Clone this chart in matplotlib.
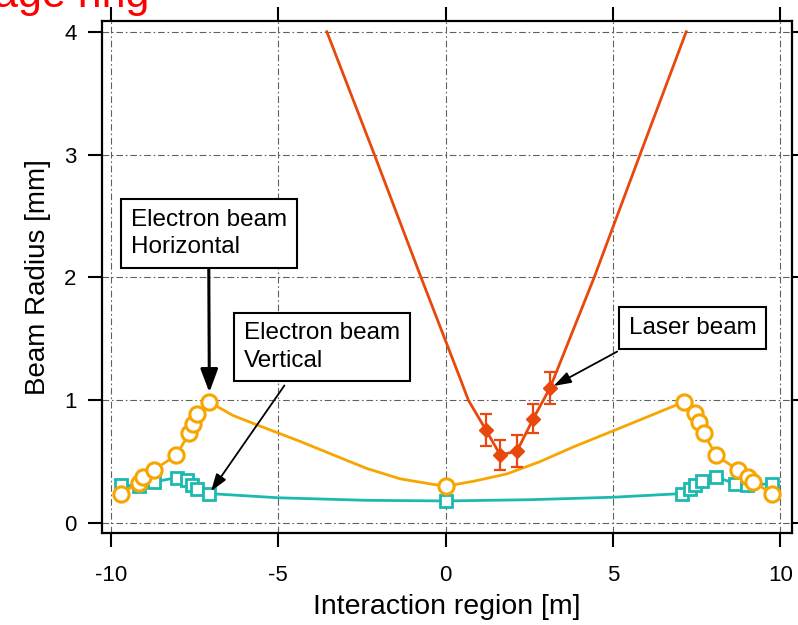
import matplotlib
matplotlib.use("Agg")
import matplotlib.pyplot as plt
import numpy as np

plt.rcParams['font.family'] = ['Liberation Sans', 'DejaVu Sans']
plt.rcParams['axes.unicode_minus'] = False

# ---- data -------------------------------------------------------------
# Electron beam, horizontal size: measured points
horiz_x = [-9.70, -9.16, -9.04, -8.71, -8.06, -7.66, -7.54, -7.42, -7.06, 0.0,
           7.11, 7.46, 7.56, 7.71, 8.09, 8.75, 9.05, 9.20, 9.75]
horiz_y = [0.24, 0.33, 0.375, 0.435, 0.55, 0.73, 0.81, 0.89, 0.985, 0.30,
           0.985, 0.90, 0.82, 0.73, 0.55, 0.43, 0.375, 0.335, 0.24]
# envelope through the interaction region
horiz_curve_x = [-6.35, -5.55, -5.02, -4.35, -3.36, -2.36, -1.36, -0.37,
                 0.83, 1.83, 2.82, 3.82, 5.00, 5.81]
horiz_curve_y = [0.875, 0.79, 0.735, 0.665, 0.555, 0.445, 0.36, 0.315,
                 0.34, 0.40, 0.50, 0.62, 0.75, 0.84]

# Electron beam, vertical size
vert_x = [-9.70, -9.16, -8.71, -8.04, -7.74, -7.59, -7.44, -7.06, 0.0,
          7.06, 7.31, 7.46, 7.66, 8.09, 8.66, 9.00, 9.75]
vert_y = [0.31, 0.30, 0.335, 0.37, 0.35, 0.31, 0.28, 0.24, 0.18,
          0.24, 0.28, 0.31, 0.34, 0.375, 0.32, 0.31, 0.32]
vert_curve_x = [-5.02, -2.36, 2.50, 5.00]
vert_curve_y = [0.206, 0.185, 0.19, 0.21]

# Laser beam: measured radii with error bars and the fitted envelope
laser_x = [1.20, 1.63, 2.13, 2.62, 3.12]
laser_y = [0.76, 0.555, 0.585, 0.85, 1.10]
laser_err = [0.13, 0.12, 0.13, 0.12, 0.13]
laser_fit_x = [-3.55, -2.13, -0.735, 0.43, 0.68, 1.20, 1.63, 2.13, 2.62, 3.12,
               4.44, 5.81, 7.19]
laser_fit_y = [4.0, 3.0, 2.0, 1.18, 1.0, 0.76, 0.555, 0.585, 0.85, 1.10,
               2.0, 3.0, 4.0]

x_ticks = [-10, -5, 0, 5, 10]
y_ticks = [0, 1, 2, 3, 4]

ORANGE = '#F7A500'
TEAL = '#1CB9AE'
LASER = '#E8480E'


def merged(xa, ya, xb, yb):
    x = np.concatenate([xa, xb])
    y = np.concatenate([ya, yb])
    order = np.argsort(x)
    return x[order], y[order]


fig = plt.figure(figsize=(7.98, 6.25), dpi=100)
ax = fig.add_axes([0.1274, 0.1472, 0.865, 0.8197])

# vertical electron beam
vx, vy = merged(vert_x, vert_y, vert_curve_x, vert_curve_y)
ax.plot(vx, vy, color=TEAL, lw=2.0, zorder=3)
ax.plot(vert_x, vert_y, ls='none', marker='s', ms=9, mfc='white',
        mec=TEAL, mew=2.0, zorder=4)

# horizontal electron beam
hx, hy = merged(horiz_x, horiz_y, horiz_curve_x, horiz_curve_y)
ax.plot(hx, hy, color=ORANGE, lw=2.0, zorder=5)
ax.plot(horiz_x, horiz_y, ls='none', marker='o', ms=11, mfc='white',
        mec=ORANGE, mew=2.2, zorder=6)

# laser beam
ax.plot(laser_fit_x, laser_fit_y, color=LASER, lw=2.0, zorder=7)
ax.errorbar(laser_x, laser_y, yerr=laser_err, fmt='D', color=LASER, ms=7.5,
            elinewidth=1.6, capsize=4.5, capthick=1.6, zorder=8)

# axes
ax.set_xlim(-10.28, 10.35)
ax.set_ylim(-0.081, 4.09)
ax.set_xticks(x_ticks)
ax.set_yticks(y_ticks)
ax.grid(True, color='#606060', lw=0.8, ls=(0, (6, 2.5, 1.5, 2.5)))
ax.set_axisbelow(True)
for sp in ax.spines.values():
    sp.set_linewidth(1.6)
ax.tick_params(direction='out', length=10, width=1.5, top=True, right=True,
               labelsize=16, colors='black')
ax.tick_params(axis='x', pad=13)
ax.tick_params(axis='y', pad=8)

ax.set_xlabel('Interaction region [m]', fontsize=20.5)
ax.set_ylabel('Beam Radius [mm]', fontsize=20)
ax.xaxis.set_label_coords(0.5, -0.12)
ax.yaxis.set_label_coords(-0.0734, 0.5)

# labels with arrows
box = dict(boxstyle='square,pad=0.4', fc='white', ec='black', lw=1.5)
ax.annotate('Electron beam\nHorizontal', xy=(-7.06, 0.985), xytext=(-7.08, 2.358),
            ha='center', va='center', multialignment='left', fontsize=17.5,
            linespacing=1.3, bbox=box, zorder=10,
            arrowprops=dict(arrowstyle='-|>,head_length=0.8,head_width=0.3',
                            color='black', lw=2.2, relpos=(0.5, 0),
                            shrinkA=0, shrinkB=7))
ax.annotate('Electron beam\nVertical', xy=(-7.06, 0.24), xytext=(-3.69, 1.433),
            ha='center', va='center', multialignment='left', fontsize=17.5,
            linespacing=1.3, bbox=box, zorder=10,
            arrowprops=dict(arrowstyle='-|>,head_length=0.6,head_width=0.2',
                            color='black', lw=1.3, relpos=(0.32, 0),
                            shrinkA=3, shrinkB=2))
ax.annotate('Laser beam', xy=(3.12, 1.10), xytext=(7.38, 1.587),
            ha='center', va='center', fontsize=17.5, bbox=box, zorder=10,
            arrowprops=dict(arrowstyle='-|>,head_length=0.6,head_width=0.2',
                            color='black', lw=1.3, relpos=(0.09, 0),
                            shrinkA=3, shrinkB=3))

# page heading, running off the top edge
fig.text(-6 / 798, 1 - 7 / 625, 'age ring', color='red', fontsize=31,
         ha='left', va='baseline')

fig.savefig('out.png', dpi=100)
